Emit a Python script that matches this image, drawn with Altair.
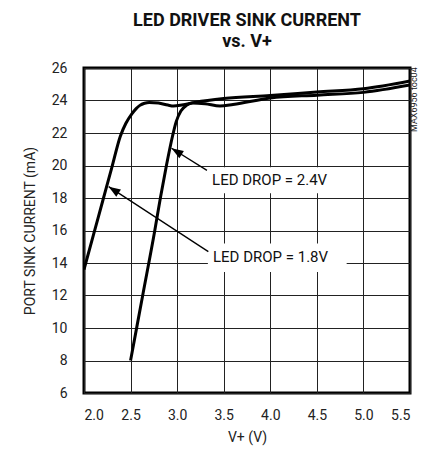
import altair as alt
import pandas as pd

# ---- data ----
v_18 = [2.0, 2.1, 2.2, 2.3, 2.39, 2.45, 2.51, 2.56, 2.6, 2.65, 2.7, 2.8, 2.9, 2.96, 3.05, 3.2, 3.5, 4.0, 4.5, 5.0, 5.5]
i_18 = [13.6, 15.7, 17.8, 19.9, 21.8, 22.6, 23.15, 23.5, 23.7, 23.83, 23.88, 23.84, 23.72, 23.66, 23.72, 23.9, 24.13, 24.31, 24.52, 24.72, 25.2]

v_24 = [2.5, 2.63, 2.76, 2.82, 2.885, 2.95, 2.99, 3.04, 3.1, 3.16, 3.3, 3.46, 3.6, 4.0, 4.5, 5.0, 5.5]
i_24 = [8.0, 12.0, 16.0, 18.0, 20.0, 21.8, 22.7, 23.35, 23.7, 23.85, 23.8, 23.66, 23.75, 24.15, 24.33, 24.5, 24.95]

x_ticks = [2.0, 2.5, 3.0, 3.5, 4.0, 4.5, 5.0, 5.5]
y_ticks = [6, 8, 10, 12, 14, 16, 18, 20, 22, 24, 26]

label_text = ["LED DROP = 2.4V", "LED DROP = 1.8V"]
label_x = [3.375, 3.385]
label_y = [19.1, 14.35]
box_x1 = [3.33, 3.33]
box_x2 = [4.56, 4.82]
box_y1 = [18.3, 13.45]
box_y2 = [19.9, 15.2]

arrow_x_from = [3.32, 3.335]
arrow_y_from = [19.7, 14.7]
arrow_x_to = [2.94, 2.265]
arrow_y_to = [21.06, 18.7]
arrow_angle = [302, 303]

note_text = ["MAX6956 toc04"]
note_x = [5.542]
note_y = [22.06]

FONT = "Roboto, sans-serif"

curves = pd.DataFrame({
    "v": v_18 + v_24,
    "i": i_18 + i_24,
    "s": ["1.8"] * len(v_18) + ["2.4"] * len(v_24),
})
labels = pd.DataFrame({"t": label_text, "x": label_x, "y": label_y,
                       "bx1": box_x1, "bx2": box_x2, "by1": box_y1, "by2": box_y2})
arrows = pd.DataFrame({"x": arrow_x_from, "y": arrow_y_from, "x2": arrow_x_to,
                       "y2": arrow_y_to, "a": arrow_angle})
notes = pd.DataFrame({"t": note_text, "x": note_x, "y": note_y})

xs = alt.Scale(domain=[2.0, 5.5], nice=False, zero=False)
ys = alt.Scale(domain=[6, 26], nice=False, zero=False)

lines = alt.Chart(curves).mark_line(
    color="black", strokeWidth=3, interpolate="monotone", clip=True
).encode(
    x=alt.X("v:Q", scale=xs, axis=alt.Axis(values=x_ticks, tickCount=20, format=".1f", title="V+ (V)",
                                           labelOverlap=False, labelPadding=15, titlePadding=8)),
    y=alt.Y("i:Q", scale=ys, axis=alt.Axis(values=y_ticks, tickCount=30, format="d",
                                           title="PORT SINK CURRENT (mA)",
                                           labelOverlap=False, labelPadding=17, titlePadding=14)),
    detail="s:N",
)

boxes = alt.Chart(labels).mark_rect(fill="white").encode(
    x=alt.X("bx1:Q", scale=xs), x2="bx2:Q",
    y=alt.Y("by1:Q", scale=ys), y2="by2:Q",
)

texts = alt.Chart(labels).mark_text(
    align="left", baseline="middle", fontSize=15, font=FONT, color="#111"
).encode(
    x=alt.X("x:Q", scale=xs), y=alt.Y("y:Q", scale=ys), text="t:N"
)

rules = alt.Chart(arrows).mark_rule(color="black", strokeWidth=1.3).encode(
    x=alt.X("x:Q", scale=xs), y=alt.Y("y:Q", scale=ys), x2="x2:Q", y2="y2:Q"
)

heads = alt.Chart(arrows).mark_point(
    shape="M0,0 L0.36,1 L-0.36,1 Z", filled=True, color="black", opacity=1, size=560
).encode(
    x=alt.X("x2:Q", scale=xs), y=alt.Y("y2:Q", scale=ys), angle=alt.Angle("a:Q", scale=None)
)

note = alt.Chart(notes).mark_text(
    align="left", baseline="middle", angle=270, fontSize=9, font=FONT, color="#222", clip=False
).encode(
    x=alt.X("x:Q", scale=xs), y=alt.Y("y:Q", scale=ys), text="t:N"
)

chart = alt.layer(lines, boxes, texts, rules, heads, note).properties(
    width=326, height=325,
    autosize=alt.AutoSizeParams(type="none"),
    padding={"left": 76, "top": 60, "right": 11, "bottom": 54},
    title=alt.TitleParams(
        ["LED DRIVER SINK CURRENT", "vs. V+"], fontSize=18, fontWeight="bold",
        font=FONT, anchor="middle", lineHeight=21, offset=10, color="#111",
    ),
).configure_view(
    stroke="black", strokeWidth=3
).configure_axis(
    domain=False, ticks=False, grid=True, gridColor="#222", gridWidth=1, gridOpacity=1,
    labelFontSize=14, labelFont=FONT, labelColor="#222",
    titleFontSize=14, titleFont=FONT, titleColor="#222", titleFontWeight="normal",
)

chart.save("out.html", embed_options={"renderer": "svg", "actions": False})
